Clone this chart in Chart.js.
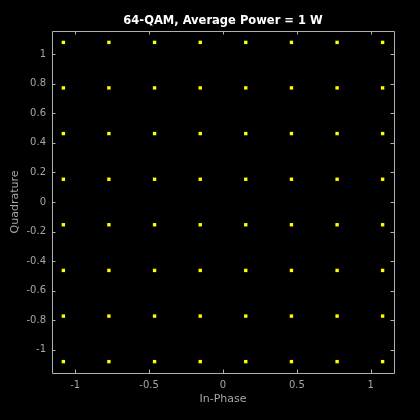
<!DOCTYPE html>
<html>
<head>
<meta charset="utf-8">
<script src="https://cdn.jsdelivr.net/npm/chart.js@4"></script>
<style>
  html, body { margin: 0; padding: 0; background: #000; }
  #wrap { width: 420px; height: 420px; }
</style>
</head>
<body>
<div id="wrap"><canvas id="qam"></canvas></div>
<script>
// constellation levels, same for I and Q
var levelsI = [-1.080, -0.772, -0.463, -0.154, 0.154, 0.463, 0.772, 1.080];
var levelsQ = [-1.080, -0.772, -0.463, -0.154, 0.154, 0.463, 0.772, 1.080];
var xTicks = [-1, -0.5, 0, 0.5, 1];
var yTicks = [-1, -0.8, -0.6, -0.4, -0.2, 0, 0.2, 0.4, 0.6, 0.8, 1];
var axisMin = -1.157, axisMax = 1.157;
var titleText = '64-QAM, Average Power = 1 W';

var points = [];
levelsI.forEach(function (i) {
    levelsQ.forEach(function (q) {
        points.push({ x: i, y: q });
    });
});

var textColor = '#a6a6a6';
var font = 'DejaVu Sans';

// black background, title over the plot box, box with inward ticks on all sides
var boxPlugin = {
    id: 'box',
    beforeDraw: function (chart) {
        var c = chart.ctx;
        c.save();
        c.fillStyle = '#000';
        c.fillRect(0, 0, chart.width, chart.height);
        c.restore();
    },
    afterDraw: function (chart) {
        var c = chart.ctx, a = chart.chartArea;
        var xs = chart.scales.x, ys = chart.scales.y, tl = 3.5;
        c.save();
        c.fillStyle = '#ffffff';
        c.font = 'bold 11.5px "' + font + '"';
        c.textAlign = 'center';
        c.textBaseline = 'middle';
        c.fillText(titleText, (a.left + a.right) / 2, 21);

        c.strokeStyle = '#b0b0b0';
        c.lineWidth = 1;
        c.beginPath();
        c.rect(Math.round(a.left) + 0.5, Math.round(a.top) + 0.5,
               Math.round(a.right - a.left), Math.round(a.bottom - a.top));
        xTicks.forEach(function (v) {
            var px = Math.round(xs.getPixelForValue(v)) + 0.5;
            c.moveTo(px, a.bottom); c.lineTo(px, a.bottom - tl);
            c.moveTo(px, a.top); c.lineTo(px, a.top + tl);
        });
        yTicks.forEach(function (v) {
            var py = Math.round(ys.getPixelForValue(v)) + 0.5;
            c.moveTo(a.left, py); c.lineTo(a.left + tl, py);
            c.moveTo(a.right, py); c.lineTo(a.right - tl, py);
        });
        c.stroke();
        c.restore();
    }
};

function fmt(v) { return String(Math.round(v * 10) / 10); }

new Chart(document.getElementById('qam').getContext('2d'), {
    type: 'scatter',
    data: {
        datasets: [{
            data: points,
            pointStyle: 'rect',
            pointRadius: 2.4,
            pointBorderWidth: 0,
            backgroundColor: '#ffff00',
            borderColor: '#ffff00'
        }]
    },
    options: {
        responsive: true,
        maintainAspectRatio: false,
        animation: false,
        layout: { padding: { left: 0, right: 26, top: 31, bottom: 0 } },
        plugins: {
            legend: { display: false },
            tooltip: { enabled: false },
            title: { display: false }
        },
        scales: {
            x: {
                type: 'linear',
                min: axisMin,
                max: axisMax,
                afterBuildTicks: function (s) { s.ticks = xTicks.map(function (v) { return { value: v }; }); },
                afterFit: function (s) { s.height = 47; },
                grid: { display: false, drawTicks: false },
                border: { display: false },
                ticks: { color: textColor, font: { family: font, size: 10 }, padding: 6, maxRotation: 0, callback: fmt },
                title: {
                    display: true, text: 'In-Phase', color: textColor,
                    font: { family: font, size: 11 }, padding: { top: 0, bottom: 14 }
                }
            },
            y: {
                type: 'linear',
                min: axisMin,
                max: axisMax,
                afterBuildTicks: function (s) { s.ticks = yTicks.map(function (v) { return { value: v }; }); },
                afterFit: function (s) { s.width = 52; },
                grid: { display: false, drawTicks: false },
                border: { display: false },
                ticks: { color: textColor, font: { family: font, size: 10 }, padding: 6, callback: fmt },
                title: {
                    display: true, text: 'Quadrature', color: textColor,
                    font: { family: font, size: 11 }, padding: { top: 9, bottom: 0 }
                }
            }
        }
    },
    plugins: [boxPlugin]
});
</script>
</body>
</html>
